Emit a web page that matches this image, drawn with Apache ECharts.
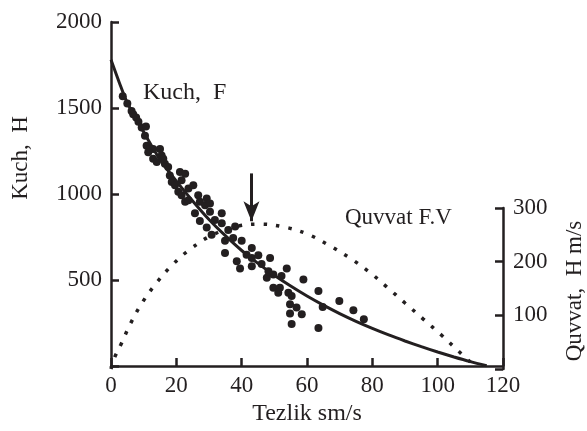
<!DOCTYPE html>
<html>
<head>
<meta charset="utf-8">
<script src="https://cdn.jsdelivr.net/npm/echarts@6/dist/echarts.min.js"></script>
<style>
    html, body { margin: 0; padding: 0; background: #fff; }
    #main { width: 587px; height: 431px; }
</style>
</head>
<body>
<div id="main"></div>
<script>
    // olchangan nuqtalar: tezlik (sm/s), kuch (H)
    var pointsV = [3.6, 5.0, 6.3, 6.8, 7.7, 8.4, 9.4, 10.7, 10.4, 10.9, 11.9, 12.9, 11.4, 15, 15.5, 16, 16.5, 12.9, 14, 17.5,
        18, 18.6, 19.6, 21.1, 22.7, 21.6, 20.6, 21.6, 22.7, 23.7, 25.2, 23.7, 26.7, 27.2, 28.8, 29.3, 30.3,
        30.3, 25.7, 27.2, 29.3, 31.8, 33.9, 33.9, 35.9, 30.8, 34.9, 38, 37.4, 40, 34.9, 38.5, 39.5, 41.5, 43.1,
        43.1, 43.1, 45.1, 46.1, 48.7, 47.7, 49.7, 52.2, 53.8, 49.7, 51.7, 51.2, 54.3, 55.3, 54.8, 56.8, 54.8,
        58.4, 55.3, 58.9, 63.5, 63.5, 64.8, 69.9, 74.2, 77.4, 48.2];
    var pointsF = [1569, 1527, 1483, 1464, 1445, 1420, 1387, 1393, 1339, 1281, 1262, 1262, 1243, 1262, 1224, 1205, 1176, 1205, 1186, 1157,
        1108, 1070, 1051, 1128, 1118, 1080, 1013, 993, 955, 1032, 1051, 964, 993, 955, 935, 974, 945,
        897, 888, 843, 805, 849, 888, 830, 791, 763, 728, 811, 744, 728, 657, 609, 567, 647, 686,
        628, 580, 644, 594, 628, 513, 532, 523, 567, 455, 455, 427, 427, 407, 359, 340, 305,
        301, 244, 503, 436, 221, 344, 379, 324, 273, 552];

    // kuch egri chizig'i F(v)
    var forceV = [0, 2.5, 5, 10, 15, 20, 25, 30, 35, 40, 45, 50, 55, 60, 65, 70, 75, 80, 85, 90, 95, 100, 105, 110, 115];
    var forceF = [1780, 1650, 1530, 1360, 1200, 1075, 960, 852, 758, 672, 597, 528, 465, 407, 354, 305, 260, 219, 181, 146, 113, 82, 53, 26, 2];

    // quvvat egri chizig'i F.V
    var powerV = [0, 1.2, 3, 6, 9.7, 14, 19.1, 24.4, 30.8, 38, 45.4, 52.7, 59.9, 66.3, 72.8, 78.8, 84.4, 90, 95.6, 101.2, 106.6, 110];
    var powerP = [0, 23, 45, 85, 125, 161, 196, 224, 249, 265, 270, 265, 252, 232, 208, 182, 153, 123, 93, 63, 32, 13];

    var xTicks = [0, 20, 40, 60, 80, 100, 120];

    function zip(a, b) {
        return a.map(function (v, i) { return [v, b[i]]; });
    }

    var font = 'Liberation Serif';
    var ink = '#231f20';

    var myChart = echarts.init(document.getElementById('main'));
    var option = {
        animation: false,
        backgroundColor: '#fff',
        grid: [
            { left: 111, right: 84, top: 22, bottom: 62 },
            { left: 111, right: 84, top: 208, bottom: 62 }
        ],
        xAxis: [
            {
                gridIndex: 0, type: 'value', min: xTicks[0], max: xTicks[xTicks.length - 1], interval: 20,
                name: 'Tezlik sm/s', nameLocation: 'middle', nameGap: 27,
                nameTextStyle: { fontFamily: font, fontSize: 24, color: ink },
                axisLine: { lineStyle: { color: ink, width: 2.5 } },
                axisTick: { inside: true, length: 8, lineStyle: { color: ink, width: 2.5 } },
                axisLabel: { margin: 8, fontFamily: font, fontSize: 23, color: ink },
                splitLine: { show: false }
            },
            {
                gridIndex: 1, type: 'value', min: 0, max: 120, show: false
            }
        ],
        yAxis: [
            {
                gridIndex: 0, type: 'value', min: 0, max: 2000, interval: 500,
                axisLine: { show: true, onZero: false, lineStyle: { color: ink, width: 2.5 } },
                axisTick: { show: true, inside: true, length: 8, lineStyle: { color: ink, width: 2.5 } },
                axisLabel: {
                    margin: 9, fontFamily: font, fontSize: 23, color: ink,
                    formatter: function (v) { return v === 0 ? '' : v; }
                },
                splitLine: { show: false }
            },
            {
                gridIndex: 1, type: 'value', position: 'right', min: 0, max: 300, interval: 100,
                axisLine: { show: true, onZero: false, lineStyle: { color: ink, width: 2.5 } },
                axisTick: { show: true, inside: true, length: 8, lineStyle: { color: ink, width: 2.5 } },
                axisLabel: {
                    margin: 10, fontFamily: font, fontSize: 23, color: ink,
                    formatter: function (v) { return v === 0 ? '' : v; }
                },
                splitLine: { show: false }
            }
        ],
        graphic: [
            {
                type: 'text', x: 21, y: 158, rotation: Math.PI / 2,
                style: { text: 'Kuch,  H', font: '23px "Liberation Serif"', fill: ink, align: 'center', verticalAlign: 'middle' }
            },
            {
                type: 'text', x: 575, y: 291, rotation: Math.PI / 2,
                style: { text: 'Quvvat,  H m/s', font: '23px "Liberation Serif"', fill: ink, align: 'center', verticalAlign: 'middle' }
            },
            {
                type: 'text', x: 143, y: 93,
                style: { text: 'Kuch,  F', font: '24px "Liberation Serif"', fill: ink, align: 'left', verticalAlign: 'middle' }
            },
            {
                type: 'text', x: 345, y: 218,
                style: { text: 'Quvvat F.V', font: '23px "Liberation Serif"', fill: ink, align: 'left', verticalAlign: 'middle' }
            }
        ],
        series: [
            {
                name: 'Kuch',
                type: 'line',
                xAxisIndex: 0, yAxisIndex: 0,
                data: zip(forceV, forceF),
                smooth: 0.3,
                showSymbol: false,
                lineStyle: { color: ink, width: 3 },
                markLine: {
                    silent: true,
                    symbol: ['none', 'arrow'],
                    symbolSize: [12, 20],
                    label: { show: false },
                    lineStyle: { color: ink, width: 3, type: 'solid' },
                    data: [[{ coord: [43, 1120] }, { coord: [43, 842] }]]
                }
            },
            {
                name: 'Tajriba',
                type: 'scatter',
                xAxisIndex: 0, yAxisIndex: 0,
                data: zip(pointsV, pointsF),
                symbolSize: 8,
                itemStyle: { color: ink, opacity: 1 }
            },
            {
                name: 'Quvvat',
                type: 'line',
                xAxisIndex: 1, yAxisIndex: 1,
                data: zip(powerV, powerP),
                smooth: 0.4,
                showSymbol: false,
                lineStyle: { color: ink, width: 3.5, type: [3.5, 9] }
            }
        ]
    };
    myChart.setOption(option);
</script>
</body>
</html>
